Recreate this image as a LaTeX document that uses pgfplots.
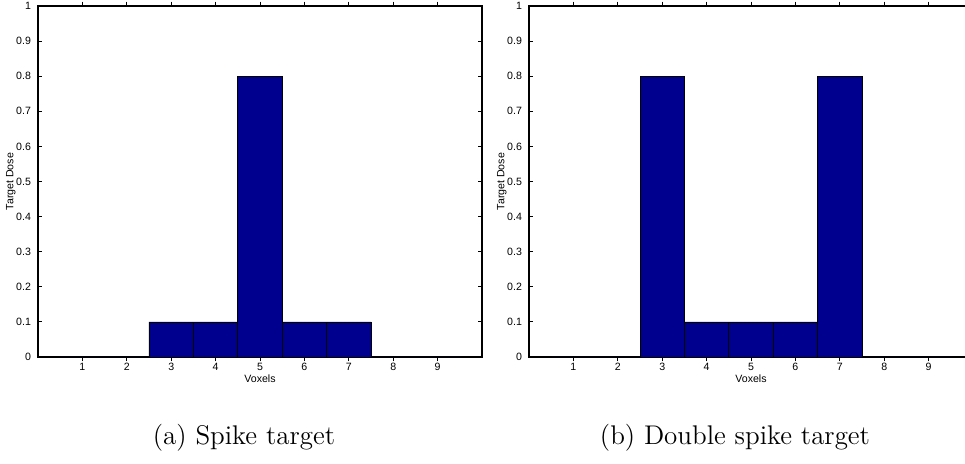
\documentclass[border=0pt]{standalone}
\usepackage{pgfplots}
\pgfplotsset{compat=1.18}
\usepackage{fontspec}
\newfontfamily\helv{Liberation Sans}
\definecolor{barblue}{RGB}{0,0,143}
\pgfplotsset{
  myax/.style={
    scale only axis, width=222pt, height=175.5pt,
    xmin=0, xmax=10, ymin=0, ymax=1,
    xtick={1,2,3,4,5,6,7,8,9},
    ytick={0,0.1,0.2,0.3,0.4,0.5,0.6,0.7,0.8,0.9,1},
    tick align=inside, major tick length=2.2pt,
    axis line style={line width=0.7pt},
    tick style={line width=0.5pt, black},
    ticklabel style={font=\helv\fontsize{5.3}{6}\selectfont},
    label style={font=\helv\fontsize{5.3}{6}\selectfont},
    /pgf/number format/assume math mode=true,
    yticklabel style={/pgf/number format/fixed},
    xticklabel style={yshift=2.5pt},
    xlabel=Voxels, ylabel=Target Dose,
    xlabel style={yshift=5pt},
    ylabel style={yshift=-6.5pt},
    anchor=south west,
    ybar, bar width=1, bar shift=0pt,
  },
  mybar/.style={fill=barblue, draw=black, line width=0.35pt},
}
\begin{document}
\begin{tikzpicture}
\clip (0pt,0pt) rectangle (482.5pt,-232pt);
\begin{axis}[myax, at={(19pt,-178.5pt)}]
\addplot[mybar] coordinates {(1,0) (2,0) (3,0.1) (4,0.1) (5,0.8) (6,0.1) (7,0.1) (8,0) (9,0)};
\end{axis}
\begin{axis}[myax, at={(264.5pt,-178.5pt)}]
\addplot[mybar] coordinates {(1,0) (2,0) (3,0.8) (4,0.1) (5,0.1) (6,0.1) (7,0.8) (8,0) (9,0)};
\end{axis}
\node[anchor=base, font=\fontsize{13.5}{16}\selectfont] at (122pt,-222.5pt) {(a) Spike target};
\node[anchor=base, font=\fontsize{13.5}{16}\selectfont] at (367.5pt,-222.5pt) {(b) Double spike target};
\end{tikzpicture}
\end{document}
